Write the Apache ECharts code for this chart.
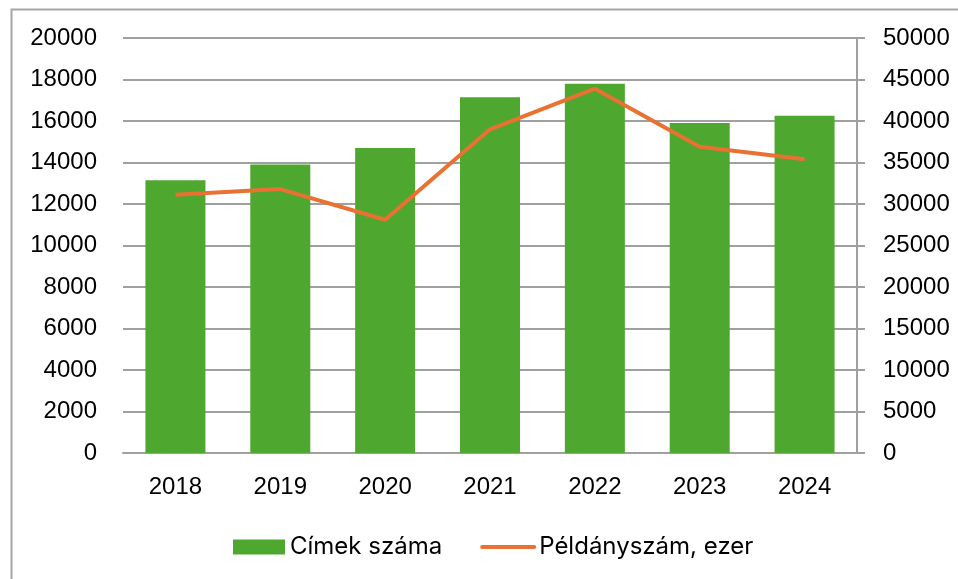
<!DOCTYPE html>
<html>
<head>
<meta charset="utf-8">
<script src="https://cdn.jsdelivr.net/npm/echarts@6/dist/echarts.min.js"></script>
<style>
html,body{margin:0;padding:0;background:#fff;}
#chart{width:958px;height:579px;}
</style>
</head>
<body>
<div id="chart"></div>
<script>
const years = ['2018','2019','2020','2021','2022','2023','2024'];
const cimekSzama = [13150, 13900, 14700, 17150, 17800, 15900, 16250];
const peldanyszam = [31100, 31800, 28100, 39000, 43900, 36900, 35400];
const seriesNames = ['Címek száma', 'Példányszám, ezer'];

const chart = echarts.init(document.getElementById('chart'), null, {renderer:'canvas'});
const axisFont = {fontFamily:'Liberation Sans, Arial, sans-serif', fontSize:24, color:'#000', formatter:function(v){return String(v);}};
chart.setOption({
  animation:false,
  backgroundColor:'#fff',
  graphic:[{
    type:'rect', left:9, top:7, shape:{x:0,y:0,width:970,height:600},
    style:{fill:'none', stroke:'#a6a6a6', lineWidth:2}, silent:true, z:-1
  }],
  grid:{left:123, right:101, top:38, bottom:126, containLabel:false},
  legend:{
    left:228, top:530, itemWidth:52, itemHeight:15, itemGap:38,
    textStyle:{fontFamily:'Inter, Noto Sans, sans-serif', fontSize:24, color:'#000'},
    data:[{name:seriesNames[0], icon:'rect'},
          {name:seriesNames[1], itemStyle:{opacity:0}, lineStyle:{width:4, color:'#e97132', cap:'round'}}]
  },
  xAxis:{
    type:'category', data:years,
    axisLine:{show:true, lineStyle:{color:'#a0a0a0', width:2}},
    axisTick:{show:false},
    axisLabel:Object.assign({margin:22}, axisFont)
  },
  yAxis:[{
    type:'value', min:0, max:20000, interval:2000, position:'left',
    axisLine:{show:false}, axisTick:{show:false},
    splitLine:{show:true, lineStyle:{color:'#a0a0a0', width:2}},
    axisLabel:Object.assign({margin:26}, axisFont)
  },{
    type:'value', min:0, max:50000, interval:5000, position:'right',
    axisLine:{show:true, lineStyle:{color:'#a0a0a0', width:2}},
    axisTick:{show:true, length:8, inside:false, lineStyle:{color:'#a0a0a0', width:2}},
    splitLine:{show:false},
    axisLabel:Object.assign({margin:26}, axisFont)
  }],
  series:[{
    name:seriesNames[0], type:'bar', data:cimekSzama, yAxisIndex:0,
    barWidth:60, itemStyle:{color:'#4ea72e'}
  },{
    name:seriesNames[1], type:'line', data:peldanyszam, yAxisIndex:1,
    showSymbol:false, symbol:'none',
    lineStyle:{color:'#e97132', width:4}, itemStyle:{color:'#e97132'}, z:3
  }]
});
</script>
</body>
</html>
